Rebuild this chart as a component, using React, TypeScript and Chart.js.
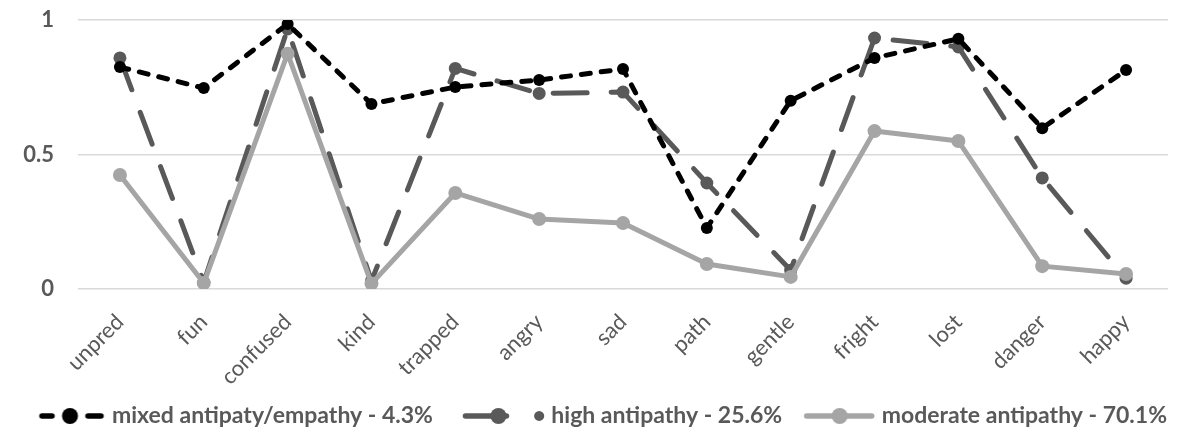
import React, { useEffect, useRef } from "react";
import { Chart, registerables } from "chart.js";

Chart.register(...registerables);

const categories = ["unpred", "fun", "confused", "kind", "trapped", "angry", "sad", "path", "gentle", "fright", "lost", "danger", "happy"];
const mixedValues = [0.825, 0.747, 0.985, 0.688, 0.751, 0.777, 0.818, 0.227, 0.70, 0.859, 0.93, 0.598, 0.814];
const highValues = [0.859, 0.025, 0.967, 0.03, 0.82, 0.727, 0.732, 0.394, 0.07, 0.933, 0.90, 0.413, 0.04];
const moderateValues = [0.424, 0.022, 0.875, 0.02, 0.357, 0.26, 0.245, 0.093, 0.045, 0.587, 0.55, 0.085, 0.056];
const seriesLabels = ["mixed antipaty/empathy - 4.3%", "• high antipathy - 25.6%", "moderate antipathy - 70.1%"];
const yTicks = [0, 0.5, 1];

const colors = ["#000000", "#595959", "#a5a5a5"];
const dashes = [[9, 11], [34, 24], []];
const radii = [6, 6.5, 7];

const ICON_BOX = 84;
const ICON_W = 100;
const ICON_H = 20;

function legendIcon(kind: number) {
  const c = document.createElement("canvas");
  c.width = ICON_W;
  c.height = ICON_H;
  const ctx = c.getContext("2d")!;
  const color = colors[kind];
  const cy = ICON_H / 2;
  ctx.strokeStyle = color;
  ctx.fillStyle = color;
  ctx.lineWidth = 5.5;
  ctx.lineCap = "round";
  const seg = (a: number, b: number) => {
    ctx.beginPath();
    ctx.moveTo(a, cy);
    ctx.lineTo(b, cy);
    ctx.stroke();
  };
  const dot = (x: number, r: number) => {
    ctx.beginPath();
    ctx.arc(x, cy, r, 0, Math.PI * 2);
    ctx.fill();
  };
  if (kind === 0) {
    seg(33.5, 43.5);
    seg(79.5, 92.5);
    dot(61.5, 8);
  } else if (kind === 1) {
    seg(36.5, 77.5);
    dot(69.5, 8);
  } else {
    seg(28.5, 93.5);
    dot(61.5, 8);
  }
  return c;
}

export default function App() {
  const ref = useRef<HTMLCanvasElement>(null);
  useEffect(() => {
    if (!ref.current) return;
    const icons = [0, 1, 2].map((i) => legendIcon(i));
    const vals = [mixedValues, highValues, moderateValues];
    const orders = [0, 2, 1];
    const chart = new Chart(ref.current, {
      type: "line",
      data: {
        labels: categories,
        datasets: vals.map((v, i) => ({
          label: seriesLabels[i],
          data: v,
          borderColor: colors[i],
          backgroundColor: colors[i],
          borderWidth: 5,
          borderDash: dashes[i],
          borderCapStyle: i === 2 ? "butt" : "round",
          borderJoinStyle: "round",
          pointRadius: radii[i],
          pointHoverRadius: radii[i],
          pointBorderWidth: 0,
          pointStyle: "circle",
          tension: 0,
          order: orders[i],
          fill: false,
        })),
      },
      options: {
        animation: false,
        responsive: true,
        maintainAspectRatio: false,
        layout: { padding: { left: 2.5, right: 0, top: 20, bottom: -5.5 } },
        scales: {
          x: {
            offset: true,
            grid: { display: false },
            border: { display: false },
            afterFit: (axis: any) => {
              axis.height = 111.5;
              axis.paddingLeft = 0;
              axis.paddingRight = 13;
            },
            ticks: {
              color: "#595959",
              font: { family: "Lato", size: 22 },
              maxRotation: 45,
              minRotation: 45,
              padding: 12,
            },
          },
          y: {
            min: 0,
            max: 1,
            afterBuildTicks: (axis: any) => {
              axis.ticks = yTicks.map((v) => ({ value: v }));
            },
            afterFit: (axis: any) => {
              axis.width = 75.5;
              axis.paddingTop = 0;
              axis.paddingBottom = 0;
            },
            grid: { color: "#d9d9d9", lineWidth: 1.5, drawTicks: false },
            border: { display: false },
            ticks: {
              color: "#595959",
              font: { family: "Lato", size: 22, weight: "bold" },
              padding: 24,
              crossAlign: "near",
              callback: (v: any) => String(v),
            },
          },
        },
        plugins: {
          tooltip: { enabled: false },
          legend: {
            position: "bottom",
            labels: {
              usePointStyle: true,
              pointStyleWidth: ICON_BOX,
              padding: 4,
              color: "#595959",
              font: { family: "Lato", size: 23, weight: "bold" },
              generateLabels: () =>
                seriesLabels.map((t, i) => ({
                  text: t,
                  fillStyle: colors[i],
                  strokeStyle: colors[i],
                  lineWidth: 0,
                  pointStyle: icons[i],
                  datasetIndex: i,
                  hidden: false,
                  fontColor: "#595959",
                })),
            },
          },
        },
      },
    });
    return () => chart.destroy();
  }, []);
  return (
    <div style={{ position: "fixed", left: 0, top: 0, width: 1181, height: 432, background: "#fff" }}>
      <canvas ref={ref} />
    </div>
  );
}
